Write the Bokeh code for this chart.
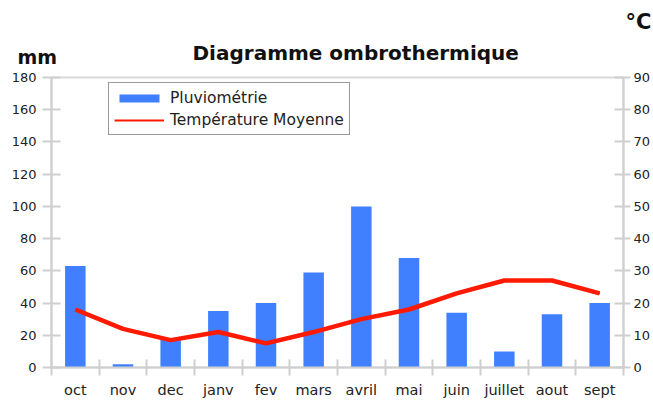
from bokeh.plotting import figure
from bokeh.layouts import column
from bokeh.models import (ColumnDataSource, Range1d, LinearAxis, FixedTicker,
                          Label, Legend, LegendItem)
from bokeh.embed import file_html
from bokeh.resources import INLINE

# ---- data ----
months = ["oct", "nov", "dec", "janv", "fev", "mars", "avril", "mai",
          "juin", "juillet", "aout", "sept"]
rain_mm = [63, 2, 18, 35, 40, 59, 100, 68, 34, 10, 33, 40]
temp_c = [18, 12, 8.5, 11, 7.5, 11, 15, 18, 23, 27, 27, 23]
mm_ticks = [0, 20, 40, 60, 80, 100, 120, 140, 160, 180]
c_ticks = [0, 10, 20, 30, 40, 50, 60, 70, 80, 90]
title_text = "Diagramme  ombrothermique"

FONT = "DejaVu Sans"
GRAY = "#CFCFCF"
TXT = "#222222"
BLUE = "#4080FF"
RED = "#FF1A00"
W = 653
HEAD_H = 66

# ---- header strip holding the title and the unit captions ----
head = figure(width=W, height=HEAD_H, output_backend="svg", toolbar_location=None,
              x_range=Range1d(0, W), y_range=Range1d(HEAD_H, 0),
              min_border=0, min_border_left=0, min_border_right=0,
              min_border_top=0, min_border_bottom=0,
              x_axis_location=None, y_axis_location=None)
head.frame_align = False
head.xgrid.visible = False
head.ygrid.visible = False
head.outline_line_color = None
head.border_fill_color = "white"
head.background_fill_color = "white"
for txt, x, y, size in [("mm", 17, 56, "19px"),
                        (title_text, 192, 52, "20px"),
                        ("°C", 625, 21, "21px")]:
    head.add_layout(Label(x=x, y=y, text=txt, text_font=FONT, text_font_size=size,
                          text_font_style="bold", text_color="#111111",
                          text_baseline="alphabetic", text_align="left"))

# ---- main chart ----
pos = [i + 0.5 for i in range(len(months))]
src = ColumnDataSource(dict(x=pos, rain=rain_mm, temp=temp_c, m=months))

p = figure(width=W, height=400 - HEAD_H, output_backend="svg", toolbar_location=None,
           x_range=Range1d(0, len(months)), y_range=Range1d(mm_ticks[0], mm_ticks[-1]),
           min_border_left=51, min_border_right=0, min_border_top=77 - HEAD_H,
           min_border_bottom=33, y_axis_location=None, x_axis_location=None)
p.frame_align = False
p.extra_y_ranges = {"temp": Range1d(c_ticks[0], c_ticks[-1])}
p.xgrid.visible = False
p.ygrid.visible = False
p.outline_line_color = "#D9D9D9"
p.outline_line_width = 2
p.background_fill_color = "white"
p.border_fill_color = "white"

bars = p.vbar(x="x", top="rain", width=0.43, source=src, fill_color=BLUE,
              line_color=BLUE, line_width=0)
line = p.line(x="x", y="temp", source=src, y_range_name="temp",
              line_color=RED, line_width=4.5, line_join="round")
# thin copy (hidden under the thick line), used as the legend swatch
swatch = p.line(x="x", y="temp", source=src, y_range_name="temp",
                line_color=RED, line_width=2)

# axes
xax = LinearAxis(ticker=FixedTicker(ticks=pos, minor_ticks=list(range(len(months) + 1))),
                 major_label_overrides={x: m for x, m in zip(pos, months)})
xax.major_tick_in = 0
xax.major_tick_out = 0
xax.minor_tick_in = 8
xax.minor_tick_out = 8
xax.minor_tick_line_color = GRAY
xax.minor_tick_line_width = 2
xax.axis_line_color = GRAY
xax.axis_line_width = 2
xax.major_label_standoff = 6
xax.major_label_text_font = FONT
xax.major_label_text_font_size = "14.5px"
xax.major_label_text_color = TXT
p.add_layout(xax, "below")

yax = LinearAxis(ticker=FixedTicker(ticks=mm_ticks))
yax.major_tick_in = 9
yax.major_tick_out = 9
yax.minor_tick_line_color = None
yax.major_tick_line_color = GRAY
yax.major_tick_line_width = 2
yax.axis_line_color = GRAY
yax.axis_line_width = 2
yax.major_label_standoff = 6
yax.major_label_text_font = FONT
yax.major_label_text_font_size = "13px"
yax.major_label_text_color = TXT
p.add_layout(yax, "left")

rax = LinearAxis(y_range_name="temp", ticker=FixedTicker(ticks=c_ticks))
rax.major_tick_in = 9
rax.major_tick_out = 7
rax.minor_tick_line_color = None
rax.major_tick_line_color = GRAY
rax.major_tick_line_width = 2
rax.axis_line_color = GRAY
rax.axis_line_width = 2
rax.major_label_standoff = 3
rax.major_label_text_font = FONT
rax.major_label_text_font_size = "13px"
rax.major_label_text_color = TXT
p.add_layout(rax, "right")

# legend
legend = Legend(items=[LegendItem(label="Pluviométrie", renderers=[bars]),
                       LegendItem(label="Température Moyenne", renderers=[swatch])],
                location=(57, 232))
legend.label_text_font = FONT
legend.label_text_font_size = "15.5px"
legend.label_text_color = TXT
legend.glyph_width = 50
legend.glyph_height = 10
legend.label_height = 19
legend.label_standoff = 6
legend.spacing = 3
legend.padding = 5
legend.margin = 0
legend.border_line_color = "#333333"
legend.border_line_width = 1.5
legend.background_fill_color = "white"
legend.background_fill_alpha = 1
p.add_layout(legend, "center")

page = column(head, p, spacing=0)
open("out.html", "w").write(file_html(page, INLINE))
